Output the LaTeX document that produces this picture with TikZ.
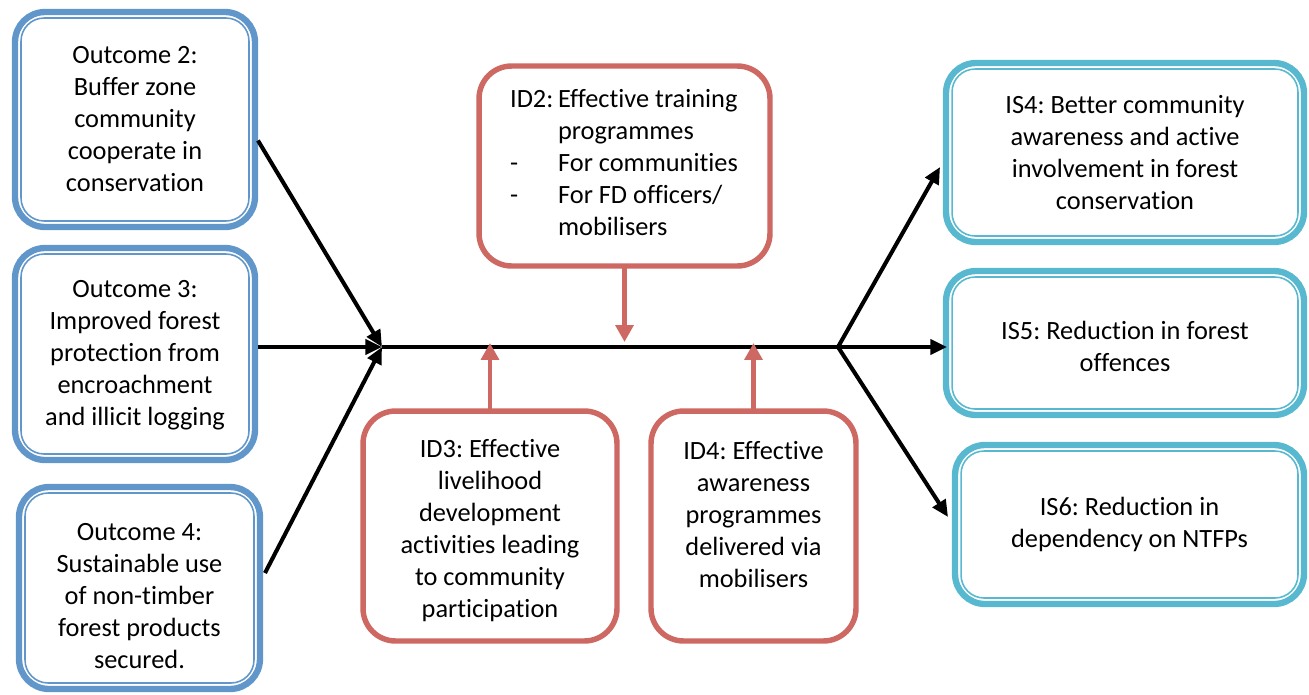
\documentclass[tikz,border=0pt]{standalone}
\usepackage{fontspec}
\setmainfont{Carlito}[Ligatures={NoCommon}]
\frenchspacing
\usetikzlibrary{arrows.meta}
\definecolor{bluec}{RGB}{96,150,201}
\definecolor{redc}{RGB}{206,104,98}
\definecolor{cyanc}{RGB}{88,184,207}
\begin{document}
\frenchspacing
\begin{tikzpicture}[x=0.02cm,y=-0.02cm,
  txt/.style={font=\fontsize{15}{18.2}\selectfont\frenchspacing, align=center, inner sep=0pt},
  dblbox/.style={draw=#1, line width=3.6pt, rounded corners=0.6cm, inner sep=0pt, outer sep=0pt},
  innerline/.style={draw=#1, line width=0.9pt, rounded corners=0.46cm},
  redbox/.style={draw=redc, line width=3.1pt, rounded corners=0.65cm, inner sep=0pt, outer sep=0pt},
  blk/.style={black, line width=2.3pt},
  blkarrow/.style={blk, -{Triangle[length=9.5pt,width=8.5pt]}},
  redarrow/.style={redc, line width=2.8pt, -{Triangle[length=9.6pt,width=10pt]}}]

\useasboundingbox (0,0) rectangle (1309,694);

% Outcome boxes (left)
\node[dblbox=bluec, minimum width=4.8cm, minimum height=4.3cm] (o2) at (135,119.5) {};
\node[dblbox=bluec, minimum width=4.8cm, minimum height=4.24cm] (o3) at (135,354) {};
\node[dblbox=bluec, minimum width=4.82cm, minimum height=4.04cm] (o4) at (139.5,588) {};
\draw[innerline=bluec] ([xshift=0.12cm,yshift=-0.12cm]o2.north west) rectangle ([xshift=-0.12cm,yshift=0.12cm]o2.south east);
\draw[innerline=bluec] ([xshift=0.12cm,yshift=-0.12cm]o3.north west) rectangle ([xshift=-0.12cm,yshift=0.12cm]o3.south east);
\draw[innerline=bluec] ([xshift=0.12cm,yshift=-0.12cm]o4.north west) rectangle ([xshift=-0.12cm,yshift=0.12cm]o4.south east);
\node[txt] (o2t) at (135,119) {Outcome 2:\\Buffer zone\\community\\cooperate in\\conservation};
\node[txt] (o3t) at (135,355) {Outcome 3:\\Improved forest\\protection from\\encroachment\\and illicit logging};
\node[txt] (o4t) at (139.5,596) {Outcome 4:\\Sustainable use\\of non-timber\\forest products\\secured.};

% Impact boxes (right)
\node[dblbox=cyanc, minimum width=7.16cm, minimum height=3.58cm] (is4) at (1125,152.5) {};
\node[dblbox=cyanc, minimum width=7.16cm, minimum height=2.88cm] (is5) at (1125,343) {};
\node[dblbox=cyanc, minimum width=6.98cm, minimum height=3.18cm] (is6) at (1129.5,524.5) {};
\draw[innerline=cyanc] ([xshift=0.12cm,yshift=-0.12cm]is4.north west) rectangle ([xshift=-0.12cm,yshift=0.12cm]is4.south east);
\draw[innerline=cyanc] ([xshift=0.12cm,yshift=-0.12cm]is5.north west) rectangle ([xshift=-0.12cm,yshift=0.12cm]is5.south east);
\draw[innerline=cyanc] ([xshift=0.12cm,yshift=-0.12cm]is6.north west) rectangle ([xshift=-0.12cm,yshift=0.12cm]is6.south east);
\node[txt] (is4t) at (1125,152.5) {IS4: Better community\\awareness and active\\involvement in forest\\conservation};
\node[txt] (is5t) at (1125,346) {IS5: Reduction in forest\\offences};
\node[txt] (is6t) at (1129.5,524) {IS6: Reduction in\\dependency on NTFPs};

% Intermediate boxes (red)
\node[redbox, minimum width=5.82cm, minimum height=4.0cm] (id2) at (624.5,166) {};
\node[redbox, minimum width=5.08cm, minimum height=4.6cm] (id3) at (490,526) {};
\node[redbox, minimum width=4.1cm, minimum height=4.6cm] (id4) at (753.5,526) {};
\node[txt] (id2t) at (624,165.5)
  {\begin{tabular}{@{}p{0.96cm}@{}l@{}}
   ID2: & Effective training\\
        & programmes\\
   -    & For communities\\
   -    & For FD officers/\\
        & mobilisers
   \end{tabular}};
\node[txt] (id3t) at (490,530.5) {ID3: Effective\\livelihood\\development\\activities leading\\to community\\participation};
\node[txt] (id4t) at (753.5,514.5) {ID4: Effective\\awareness\\programmes\\delivered via\\mobilisers};

% spine coordinates
\coordinate (hub) at (382,347);
\coordinate (fork) at (838,347);
\coordinate (t2) at (624.5,342);
\coordinate (t3) at (490,343);
\coordinate (t4) at (753.5,343);

% black connectors
\draw[blkarrow] ([shift={(3,21)}]o2.east) -- (hub);
\draw[blkarrow] ([shift={(3,-7)}]o3.east) -- (hub);
\draw[blkarrow] ([shift={(5,-15)}]o4.east) -- (hub);
\draw[blk] (hub) -- (fork);
\draw[blkarrow] (fork) -- ([shift={(-6,14.5)}]is4.west);
\draw[blkarrow] (fork) -- ([shift={(1,4)}]is5.west);
\draw[blkarrow] (fork) -- ([shift={(-7,-7.5)}]is6.west);

% red connectors
\draw[redarrow] (id2.south) -- (t2);
\draw[redarrow] (id3.north) -- (t3);
\draw[redarrow] (id4.north) -- (t4);
\end{tikzpicture}
\end{document}
